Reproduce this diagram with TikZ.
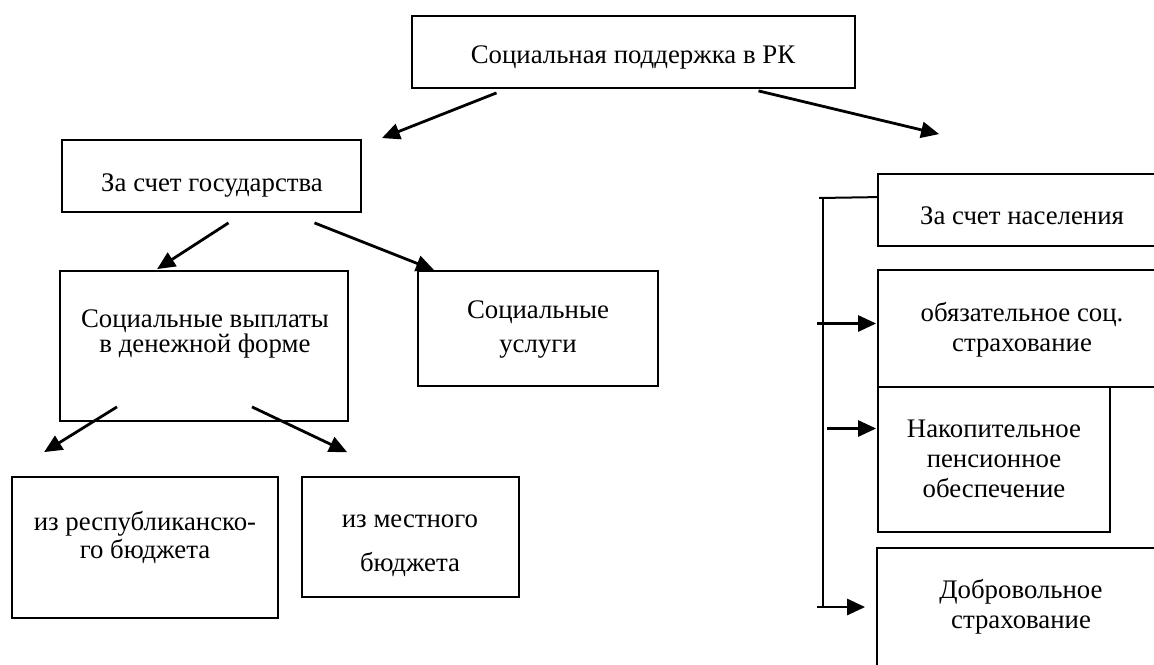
\documentclass[tikz,border=0pt]{standalone}
\usepackage{fontspec}
\setmainfont{Liberation Serif}
\usetikzlibrary{arrows.meta,fit,calc}
\tikzset{
  box/.style={draw,line width=0.9pt,inner sep=0pt},
  txt/.style={align=center,inner sep=0pt,font=\fontsize{13.4}{15}\selectfont},
  arr/.style={-{Triangle[length=9pt,width=8pt]},line width=1.4pt},
  brline/.style={line width=1pt}
}
\begin{document}
\begin{tikzpicture}[x=0.5pt,y=-0.5pt]
\useasboundingbox (0,0) rectangle (1154,664);
\clip (0,0) rectangle (1154,664);
% boxes
\node[box,fit={(412,16)(855,88)}] (rk) {};
\node[box,fit={(62,140)(361,212)}] (gos) {};
\node[box,fit={(60,271)(348,421)}] (pay) {};
\node[box,fit={(418,271)(658,386)}] (serv) {};
\node[box,fit={(12,477)(278,618)}] (rep) {};
\node[box,fit={(302,477)(519,597)}] (loc) {};
\node[box,fit={(878,174)(1170,246)}] (pop) {};
\node[box,fit={(878,270)(1170,387)}] (oblig) {};
\node[box,fit={(878,387)(1110,532)}] (nakop) {};
\node[box,fit={(877,548)(1170,700)}] (dobr) {};
% texts
\node[txt] (rkT) at (633,57) {Социальная поддержка в РК};
\node[txt] (gosT) at (212,186) {За счет государства};
\node[txt,font=\fontsize{13.4}{12.8}\selectfont] (payT) at (205,334) {Социальные выплаты\\в денежной форме};
\node[txt,font=\fontsize{13.4}{17}\selectfont] (servT) at (538,330) {Социальные\\услуги};
\node[txt,font=\fontsize{13.4}{14}\selectfont] (repT) at (145,537) {из республиканско-\\го бюджета};
\node[txt,font=\fontsize{13.4}{22}\selectfont] (locT) at (410,546) {из местного\\бюджета};
\node[txt] (popT) at (1022,216) {За счет населения};
\node[txt] (obligT) at (1022,330) {обязательное соц.\\страхование};
\node[txt] (nakopT) at (994,459) {Накопительное\\пенсионное\\обеспечение};
\node[txt] (dobrT) at (1021,607) {Добровольное\\страхование};
% arrows
\draw[arr] ($(rk.south)+(-137,4)$) -- ($(gos.north east)+(20,-1)$);
\draw[arr] ($(rk.south)+(125,2)$) -- ($(pop.north west)+(62,-39)$);
\draw[arr] ($(gos.south)+(17,10)$) -- ($(pay.north west)+(98,-1)$);
\draw[arr] ($(gos.south)+(103,10)$) -- ($(serv.north west)+(17,0)$);
\draw[arr] ($(pay.south)+(-87,-15)$) -- ($(rep.north west)+(33,-24)$);
\draw[arr] ($(pay.south)+(48,-15)$) -- ($(loc.north west)+(46,-24)$);
% bracket
\coordinate (brTop) at (823,198);
\coordinate (brBot) at (823,607);
\draw[brline] ($(pop.north west)+(0,24)$) -- ($(brTop)+(-4,0)$);
\draw[brline] (brTop) -- (brBot);
\draw[arr] ($(oblig.west)+(-60,-5)$) -- ($(oblig.west)+(-1,-5)$);
\draw[arr] ($(nakop.west)+(-50,-31)$) -- ($(nakop.west)+(-1,-31)$);
\draw[arr] ($(dobr.west)+(-59,-17)$) -- ($(dobr.west)+(-11,-17)$);
\end{tikzpicture}
\end{document}
